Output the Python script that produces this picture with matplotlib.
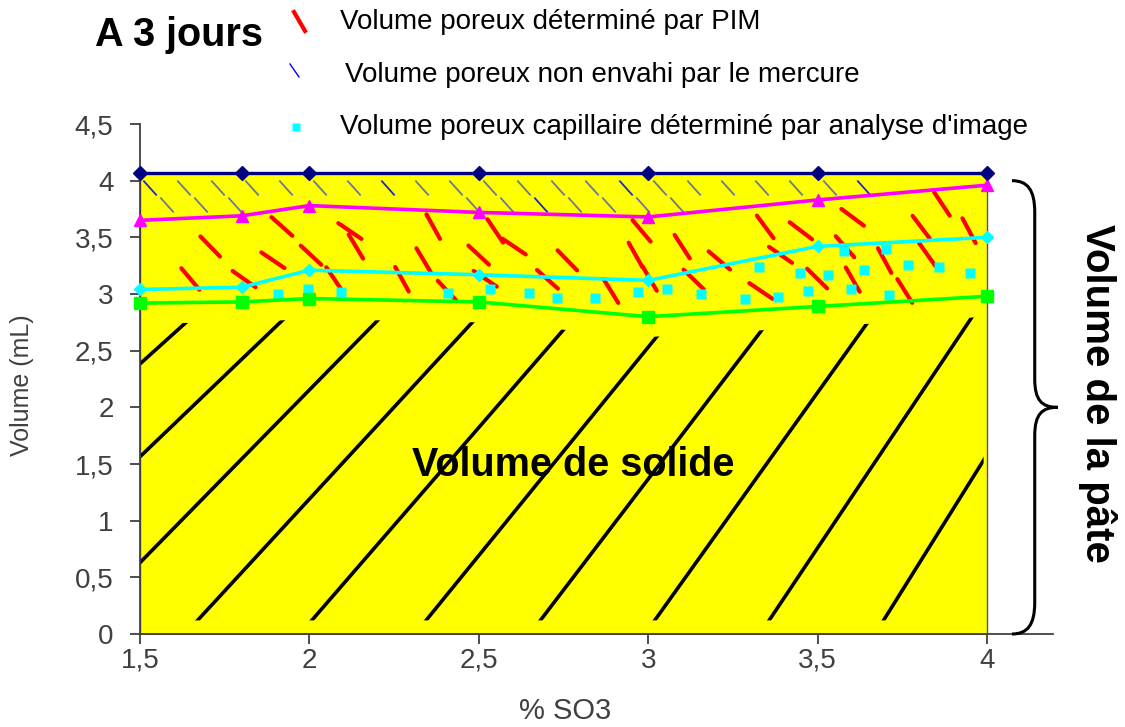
import numpy as np
import matplotlib
matplotlib.use('Agg')
import matplotlib.pyplot as plt
from matplotlib.lines import Line2D
from matplotlib.path import Path
from matplotlib.patches import PathPatch
from matplotlib.collections import LineCollection
import matplotlib.transforms as mtransforms

plt.rcParams['font.family'] = ['Liberation Sans', 'DejaVu Sans']

# ---------------- data ----------------
so3 = [1.5, 1.8, 2.0, 2.5, 3.0, 3.5, 4.0]
vol_pate = [4.07, 4.07, 4.07, 4.07, 4.07, 4.07, 4.07]          # navy line
vol_pim = [3.65, 3.69, 3.78, 3.72, 3.68, 3.83, 3.96]            # magenta
vol_capillaire = [3.04, 3.06, 3.21, 3.17, 3.12, 3.42, 3.50]     # cyan
vol_solide = [2.92, 2.93, 2.96, 2.93, 2.80, 2.89, 2.98]         # green
x_ticks = [1.5, 2.0, 2.5, 3.0, 3.5, 4.0]
x_tick_labels = ['1,5', '2', '2,5', '3', '3,5', '4']
y_ticks = [0, 0.5, 1, 1.5, 2, 2.5, 3, 3.5, 4, 4.5]
y_tick_labels = ['0', '0,5', '1', '1,5', '2', '2,5', '3', '3,5', '4', '4,5']
legend_labels = ["Volume poreux déterminé par PIM",
                 "Volume poreux non envahi par le mercure",
                 "Volume poreux capillaire déterminé par analyse d'image"]

W, H = 1125, 727
fig = plt.figure(figsize=(W / 100, H / 100), dpi=100)
ax = fig.add_axes([140 / W, 1 - 634 / H, 913 / W, 510 / H])
ax.set_xlim(1.5, 1.5 + 913 / 338.8)
ax.set_ylim(0, 4.5)

g_f = lambda x: np.interp(x, so3, vol_solide)
c_f = lambda x: np.interp(x, so3, vol_capillaire)
m_f = lambda x: np.interp(x, so3, vol_pim)

inv = ax.transData.inverted()


def px2data(px, py):
    return inv.transform((px, H - py))


def band(lo, hi, x0=1.5, x1=4.0):
    xx = np.linspace(x0, x1, 200)
    verts = list(zip(xx, lo(xx))) + list(zip(xx[::-1], hi(xx[::-1])))
    verts.append(verts[0])
    p = PathPatch(Path(verts), transform=ax.transData, facecolor='none', edgecolor='none')
    ax.add_patch(p)
    return p


# yellow background of the paste volume
ax.fill_between(so3, 0, vol_pate, facecolor='#FFFF00', edgecolor='#505050', lw=1.0, zorder=1)

# ---- black hatching (solid volume) ----
clip_solid = band(lambda x: np.full_like(x, 0.12), lambda x: g_f(x) - 0.18, 1.5, 3.99)
segs = []
for k in range(10):
    b = -160 + 115 * k
    ang = np.radians(42 + 16 * k / 9)
    top_py = 250
    top_px = b + (634 - top_py) / np.tan(ang)
    segs.append([px2data(b, 634), px2data(top_px, top_py)])
lc = LineCollection(segs, colors='black', linewidths=2.6, zorder=2, capstyle='round')
lc.set_clip_path(clip_solid)
ax.add_collection(lc)

# ---- red dashes (PIM porosity) ----
red = []
for j, py in enumerate(np.arange(196, 312, 29)):
    for i, px in enumerate(np.arange(158 + (j % 2) * 26, 1000, 52)):
        cx = px + 11 * np.sin(1.7 * i + 2.3 * j)
        cy = py + 8 * np.cos(2.1 * i + 0.7 * j)
        d = px2data(cx, cy)
        if not (g_f(d[0]) + 0.09 < d[1] < m_f(d[0]) - 0.12) or d[0] > 3.95 or d[0] < 1.53:
            continue
        a = np.radians(48 + 14 * np.sin(1.3 * i + j))
        L = 14
        red.append([px2data(cx - L * np.cos(a), cy - L * np.sin(a)),
                    px2data(cx + L * np.cos(a), cy + L * np.sin(a))])
lr = LineCollection(red, colors='#FF0000', linewidths=3.0, zorder=3, capstyle='round')
ax.add_collection(lr)

# ---- cyan squares (image analysis) ----
sq_x, sq_y = [], []
for j, py in enumerate(np.arange(246, 320, 24)):
    for i, px in enumerate(np.arange(165 + (j % 2) * 18, 990, 36)):
        cx = px + 5 * np.sin(1.9 * i + j)
        cy = py + 5 * np.cos(1.3 * i + 2 * j)
        d = px2data(cx, cy)
        if g_f(d[0]) + 0.05 < d[1] < c_f(d[0]) - 0.04 and d[0] < 3.97:
            sq_x.append(d[0]); sq_y.append(d[1])
ax.plot(sq_x, sq_y, ls='none', marker='s', ms=6.5, color='#00FFFF', mec='none', zorder=3)

# ---- blue-grey dashes (non-invaded) ----
blue = []
cols = []
for j, py in enumerate([188, 205]):
    for i, px in enumerate(np.arange(150 + j * 17, 990, 34)):
        d = px2data(px, py)
        if not (m_f(d[0]) + 0.06 < d[1] < 4.02):
            continue
        a = np.radians(48)
        L = 10
        blue.append([px2data(px - L * np.cos(a), py - L * np.sin(a)),
                     px2data(px + L * np.cos(a), py + L * np.sin(a))])
        cols.append('#1a2ad0' if (i + 3 * j) % 7 == 0 else '#6a789e')
lb = LineCollection(blue, colors=cols, linewidths=1.3, zorder=2)
ax.add_collection(lb)

# ---- series lines ----
ax.plot(so3, vol_solide, color='#00FF00', lw=2.6, marker='s', ms=9, mec='#00FF00', zorder=5, clip_on=False)
ax.plot(so3, vol_capillaire, color='#00FFFF', lw=2.6, marker='D', ms=6, mec='#00FFFF', zorder=5, clip_on=False)
ax.plot(so3, vol_pim, color='#FF00FF', lw=2.6, marker='^', ms=9, mec='#FF00FF', zorder=5, clip_on=False)
ax.plot(so3, vol_pate, color='#000080', lw=2.4, marker='D', ms=7, mec='#000080', zorder=6, clip_on=False)

# ---- axes styling ----
for s in ['top', 'right']:
    ax.spines[s].set_visible(False)
for s in ['left', 'bottom']:
    ax.spines[s].set_color('#404040')
    ax.spines[s].set_linewidth(1.3)
ax.set_xticks(x_ticks)
ax.set_xticklabels(x_tick_labels, fontsize=20, color='#404040')
ax.set_yticks(y_ticks)
ax.set_yticklabels(y_tick_labels, fontsize=20, color='#404040')
ax.tick_params(axis='y', length=7, width=1.3, color='#404040', pad=12)
ax.tick_params(axis='x', length=7, width=1.3, color='#404040', pad=3)

fig.text(22 / W, 1 - 385 / H, 'Volume (mL)', rotation=90, ha='center', va='center',
         fontsize=18, color='#404040')
fig.text(565 / W, 1 - 711 / H, '% SO3', ha='center', va='center', fontsize=21, color='#404040')

# ---- annotations ----
fig.text(95 / W, 1 - 35 / H, 'A 3 jours', ha='left', va='center', fontsize=28.5, fontweight='bold')
ax.text(*px2data(573, 465), 'Volume de solide', ha='center', va='center', fontsize=28.5,
        fontweight='bold', zorder=7)
fig.text(1097 / W, 1 - 393 / H, 'Volume de la pâte', rotation=-90, ha='center', va='center',
         fontsize=29, fontweight='bold')

# curly brace spanning the paste volume
bt = mtransforms.blended_transform_factory(ax.transAxes, ax.transData)
x0, xs_, xt = 0.955, 0.980, 1.005
verts = [(x0, 4.0), (0.972, 4.0), (xs_, 3.92), (xs_, 3.72),
         (xs_, 2.25),
         (xs_, 2.06), (0.988, 2.0), (xt, 2.0),
         (0.988, 2.0), (xs_, 1.94), (xs_, 1.75),
         (xs_, 0.28),
         (xs_, 0.08), (0.972, 0.0), (x0, 0.0)]
codes = [Path.MOVETO, Path.CURVE4, Path.CURVE4, Path.CURVE4,
         Path.LINETO,
         Path.CURVE4, Path.CURVE4, Path.CURVE4,
         Path.CURVE4, Path.CURVE4, Path.CURVE4,
         Path.LINETO,
         Path.CURVE4, Path.CURVE4, Path.CURVE4]
ax.add_patch(PathPatch(Path(verts, codes), transform=bt, facecolor='none', edgecolor='black',
                       lw=2.2, clip_on=False, zorder=8))

# ---- legend (manual, as in the original) ----
def fpt(px, py):
    return px / W, 1 - py / H

l1 = Line2D(*zip(fpt(294, 12), fpt(305, 31)), transform=fig.transFigure, color='#FF0000', lw=3.0)
l2 = Line2D(*zip(fpt(290, 64), fpt(299, 77)), transform=fig.transFigure, color='#0000FF', lw=1.0)
l3 = Line2D([fpt(296, 127)[0]], [fpt(296, 127)[1]], transform=fig.transFigure, ls='none',
            marker='s', ms=6, color='#00FFFF', mec='none')
for l in (l1, l2, l3):
    fig.add_artist(l)
fig.text(*fpt(340, 22), legend_labels[0], ha='left', va='center', fontsize=20)
fig.text(*fpt(345, 75), legend_labels[1], ha='left', va='center', fontsize=20)
fig.text(*fpt(340, 127), legend_labels[2], ha='left', va='center', fontsize=20)

fig.savefig('out.png', dpi=100)
